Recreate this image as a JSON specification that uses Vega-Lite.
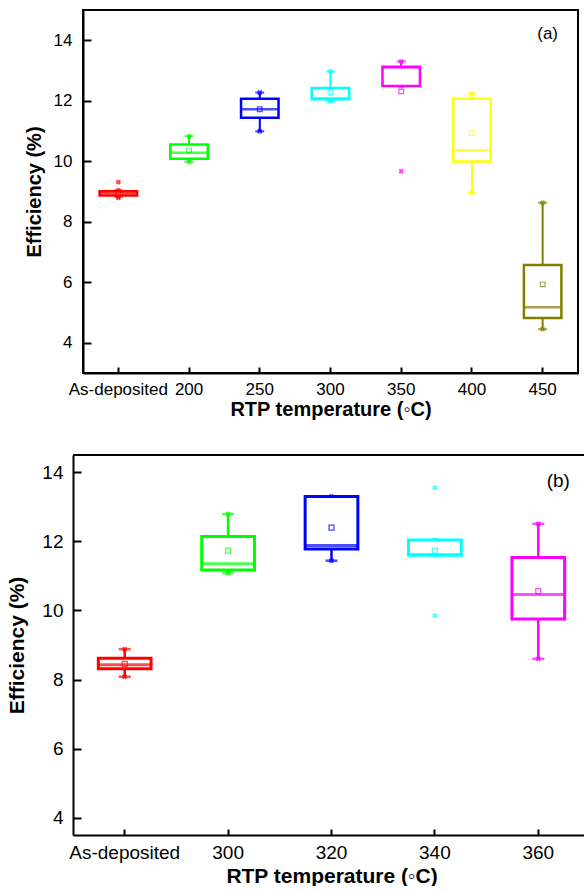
{
  "$schema": "https://vega.github.io/schema/vega-lite/v6.json",
  "background": "white",
  "padding": {"left": 6, "top": 9, "right": 0, "bottom": 0},
  "columns": 1,
  "bounds": "full",
  "spacing": 34,
  "resolve": {"scale": {"color": "independent", "stroke": "independent", "x": "independent", "y": "independent"}},
  "datasets": {
    "boxA": [
      {"cat": "As-deposited", "lo": 8.83, "q1": 8.87, "med": 8.94, "q3": 9.01, "hi": 9.04, "mean": 8.93},
      {"cat": "200", "lo": 9.98, "q1": 10.08, "med": 10.28, "q3": 10.55, "hi": 10.83, "mean": 10.36},
      {"cat": "250", "lo": 10.99, "q1": 11.44, "med": 11.72, "q3": 12.07, "hi": 12.27, "mean": 11.72},
      {"cat": "300", "lo": 11.98, "q1": 12.05, "med": 12.08, "q3": 12.42, "hi": 12.97, "mean": 12.28},
      {"cat": "350", "lo": 12.49, "q1": 12.49, "med": 13.1, "q3": 13.12, "hi": 13.3, "mean": 12.31},
      {"cat": "400", "lo": 8.96, "q1": 9.99, "med": 10.36, "q3": 12.07, "hi": 12.24, "mean": 10.93},
      {"cat": "450", "lo": 4.45, "q1": 4.82, "med": 5.17, "q3": 6.57, "hi": 8.63, "mean": 5.93}
    ],
    "outA": [
      {"cat": "As-deposited", "v": 9.31},
      {"cat": "As-deposited", "v": 8.79},
      {"cat": "350", "v": 9.67}
    ],
    "boxB": [
      {"cat": "As-deposited", "lo": 8.08, "q1": 8.31, "med": 8.43, "q3": 8.62, "hi": 8.88, "mean": 8.45},
      {"cat": "300", "lo": 11.08, "q1": 11.17, "med": 11.35, "q3": 12.14, "hi": 12.79, "mean": 11.73},
      {"cat": "320", "lo": 11.44, "q1": 11.78, "med": 11.88, "q3": 13.3, "hi": 13.3, "mean": 12.4},
      {"cat": "340", "lo": 11.6, "q1": 11.6, "med": 11.62, "q3": 12.04, "hi": 12.04, "mean": 11.73},
      {"cat": "360", "lo": 8.6, "q1": 9.75, "med": 10.46, "q3": 11.53, "hi": 12.51, "mean": 10.56}
    ],
    "outB": [
      {"cat": "340", "v": 13.55},
      {"cat": "340", "v": 9.85}
    ]
  },
  "concat": [
    {
      "width": 495,
      "height": 363,
      "encoding": {
        "x": {"field": "cat", "type": "nominal", "scale": {"domain": ["As-deposited", "200", "250", "300", "350", "400", "450"], "paddingInner": 0, "paddingOuter": 0},
          "axis": {"title": "RTP temperature (◦C)", "labelAngle": 0, "labelFontSize": 17, "titleFontSize": 20, "titleFontWeight": "bold", "tickSize": -6, "labelPadding": 14, "titlePadding": 2}},
        "color": {"field": "cat", "type": "nominal", "legend": null, "scale": {"domain": ["As-deposited", "200", "250", "300", "350", "400", "450"], "range": ["#FF0000", "#00FF00", "#0000FF", "#00FFFF", "#FF00FF", "#FFFF00", "#808000"]}}
      },
      "layer": [
        {
          "data": {"name": "boxA"},
          "mark": {"type": "rule", "strokeWidth": 2},
          "encoding": {
            "y": {"field": "lo", "type": "quantitative", "scale": {"domain": [3, 15], "nice": false, "zero": false},
              "axis": {"title": "Efficiency (%)", "values": [4, 5, 6, 7, 8, 9, 10, 11, 12, 13, 14], "labelExpr": "datum.value % 2 == 0 ? datum.label : ''", "labelFontSize": 17, "titleFontSize": 20, "titleFontWeight": "bold", "tickSize": {"condition": {"test": "datum.value % 2 == 0", "value": -8}, "value": -5}, "labelPadding": 19, "titlePadding": 9}},
            "y2": {"field": "hi"}
          }
        },
        {
          "data": {"name": "boxA"},
          "mark": {"type": "tick", "size": 9, "thickness": 2},
          "encoding": {"y": {"field": "lo", "type": "quantitative"}}
        },
        {
          "data": {"name": "boxA"},
          "mark": {"type": "tick", "size": 9, "thickness": 2},
          "encoding": {"y": {"field": "hi", "type": "quantitative"}}
        },
        {
          "data": {"name": "boxA"},
          "mark": {"type": "point", "shape": "cross", "angle": 45, "size": 30, "strokeWidth": 1, "filled": true},
          "encoding": {"y": {"field": "hi", "type": "quantitative"}}
        },
        {
          "data": {"name": "boxA"},
          "mark": {"type": "point", "shape": "cross", "angle": 45, "size": 30, "strokeWidth": 1, "filled": true},
          "encoding": {"y": {"field": "lo", "type": "quantitative"}}
        },
        {
          "data": {"name": "boxA"},
          "mark": {"type": "bar", "fill": "white", "strokeWidth": 2.5, "width": {"band": 0.53}},
          "encoding": {
            "y": {"field": "q1", "type": "quantitative"},
            "y2": {"field": "q3"},
            "stroke": {"field": "cat", "type": "nominal", "legend": null, "scale": {"domain": ["As-deposited", "200", "250", "300", "350", "400", "450"], "range": ["#FF0000", "#00FF00", "#0000FF", "#00FFFF", "#FF00FF", "#FFFF00", "#808000"]}}
          }
        },
        {
          "data": {"name": "boxA"},
          "mark": {"type": "tick", "size": 37, "thickness": 2.5},
          "encoding": {"y": {"field": "med", "type": "quantitative"}}
        },
        {
          "data": {"name": "boxA"},
          "mark": {"type": "point", "shape": "square", "size": 22, "strokeWidth": 1.2, "filled": false},
          "encoding": {"y": {"field": "mean", "type": "quantitative"}}
        },
        {
          "data": {"name": "outA"},
          "mark": {"type": "point", "shape": "cross", "angle": 45, "size": 30, "filled": true},
          "encoding": {"y": {"field": "v", "type": "quantitative"}}
        },
        {
          "data": {"values": [{"t": "(a)"}]},
          "mark": {"type": "text", "fontSize": 17, "font": "Liberation Sans", "dx": 5},
          "encoding": {"x": {"datum": "450"}, "y": {"datum": 14.2}, "text": {"field": "t"}, "color": {"value": "black"}}
        }
      ]
    },
    {
      "width": 507,
      "height": 380,
      "view": {"stroke": null},
      "encoding": {
        "x": {"field": "cat", "type": "nominal", "scale": {"domain": ["As-deposited", "300", "320", "340", "360"], "range": [-10, 507], "paddingInner": 0, "paddingOuter": 0},
          "axis": {"title": "RTP temperature (◦C)", "labelAngle": 0, "labelFontSize": 19, "titleFontSize": 21, "titleFontWeight": "bold", "tickSize": -6, "labelPadding": 14, "titlePadding": 3}},
        "color": {"field": "cat", "type": "nominal", "legend": null, "scale": {"domain": ["As-deposited", "300", "320", "340", "360"], "range": ["#FF0000", "#00FF00", "#0000FF", "#00FFFF", "#FF00FF"]}}
      },
      "layer": [
        {
          "data": {"name": "boxB"},
          "mark": {"type": "rule", "strokeWidth": 2.5},
          "encoding": {
            "y": {"field": "lo", "type": "quantitative", "scale": {"domain": [3.5, 14.5], "nice": false, "zero": false},
              "axis": {"title": "Efficiency (%)", "offset": 10, "values": [4, 5, 6, 7, 8, 9, 10, 11, 12, 13, 14], "labelExpr": "datum.value % 2 == 0 ? datum.label : ''", "labelFontSize": 19, "titleFontSize": 21, "titleFontWeight": "bold", "tickSize": {"condition": {"test": "datum.value % 2 == 0", "value": -8}, "value": -5}, "labelPadding": 18, "titlePadding": 14}},
            "y2": {"field": "hi"}
          }
        },
        {
          "data": {"values": [{"edge": "top"}]},
          "mark": {"type": "rule", "strokeWidth": 2, "color": "black"},
          "encoding": {
            "x": {"datum": "As-deposited", "bandPosition": 0},
            "x2": {"datum": "360", "bandPosition": 1},
            "y": {"datum": 14.5},
            "color": {"value": "black"}
          }
        },
        {
          "data": {"name": "boxB"},
          "mark": {"type": "tick", "size": 12, "thickness": 2.5},
          "encoding": {"y": {"field": "lo", "type": "quantitative"}}
        },
        {
          "data": {"name": "boxB"},
          "mark": {"type": "tick", "size": 12, "thickness": 2.5},
          "encoding": {"y": {"field": "hi", "type": "quantitative"}}
        },
        {
          "data": {"name": "boxB"},
          "mark": {"type": "point", "shape": "cross", "angle": 45, "size": 30, "filled": true},
          "encoding": {"y": {"field": "hi", "type": "quantitative"}}
        },
        {
          "data": {"name": "boxB"},
          "mark": {"type": "point", "shape": "cross", "angle": 45, "size": 30, "filled": true},
          "encoding": {"y": {"field": "lo", "type": "quantitative"}}
        },
        {
          "data": {"name": "boxB"},
          "mark": {"type": "bar", "fill": "white", "strokeWidth": 3, "width": {"band": 0.51}},
          "encoding": {
            "y": {"field": "q1", "type": "quantitative"},
            "y2": {"field": "q3"},
            "stroke": {"field": "cat", "type": "nominal", "legend": null, "scale": {"domain": ["As-deposited", "300", "320", "340", "360"], "range": ["#FF0000", "#00FF00", "#0000FF", "#00FFFF", "#FF00FF"]}}
          }
        },
        {
          "data": {"name": "boxB"},
          "mark": {"type": "tick", "size": 53, "thickness": 3},
          "encoding": {"y": {"field": "med", "type": "quantitative"}}
        },
        {
          "data": {"name": "boxB"},
          "mark": {"type": "point", "shape": "square", "size": 25, "strokeWidth": 1.3, "filled": false},
          "encoding": {"y": {"field": "mean", "type": "quantitative"}}
        },
        {
          "data": {"name": "outB"},
          "mark": {"type": "point", "shape": "cross", "angle": 45, "size": 30, "filled": true},
          "encoding": {"y": {"field": "v", "type": "quantitative"}}
        },
        {
          "data": {"values": [{"t": "(b)"}]},
          "mark": {"type": "text", "fontSize": 19, "font": "Liberation Sans", "dx": 20},
          "encoding": {"x": {"datum": "360"}, "y": {"datum": 13.75}, "text": {"field": "t"}, "color": {"value": "black"}}
        }
      ]
    }
  ],
  "config": {
    "view": {"stroke": "black", "strokeWidth": 2},
    "font": "Liberation Sans",
    "axis": {"grid": false, "domainColor": "black", "domainWidth": 2, "tickColor": "black", "tickWidth": 2, "labelColor": "black", "titleColor": "black", "labelFont": "Liberation Sans", "titleFont": "Liberation Sans"}
  }
}
